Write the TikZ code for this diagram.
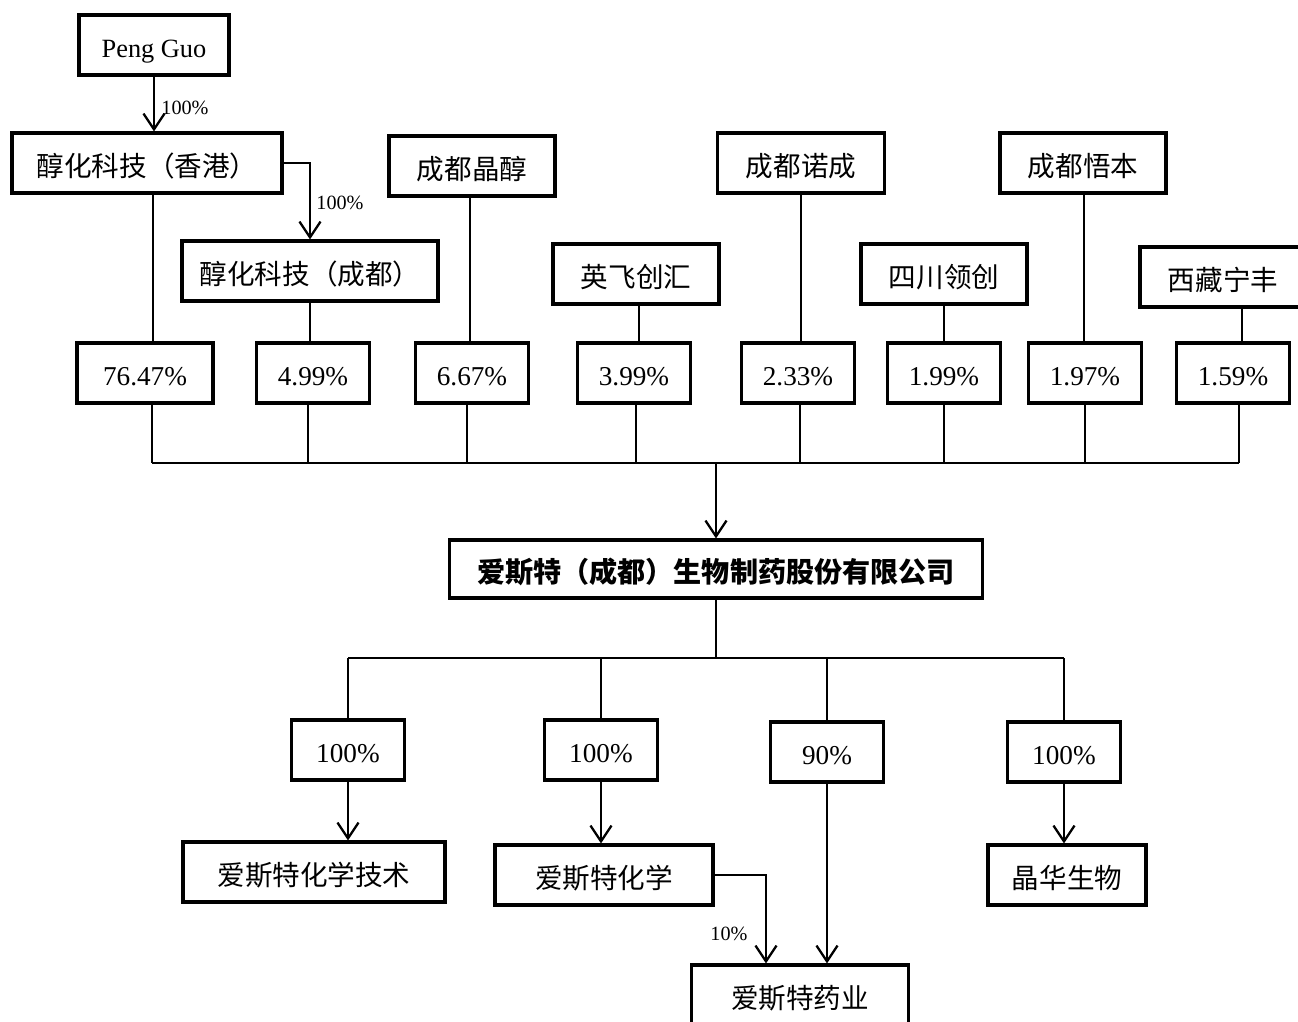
\documentclass[tikz,border=0pt]{standalone}
\usepackage{fontspec}
\setmainfont{Liberation Serif}
\newfontfamily\cjk{Noto Sans CJK SC}
\usetikzlibrary{arrows.meta,calc}

\begin{document}
\begin{tikzpicture}[x=0.02cm, y=-0.02cm,
  box/.style={draw, line width=1.8pt, minimum height=1.2cm, inner sep=0pt, text height=15.5pt, text depth=0pt, font=\fontsize{15.7}{18}\selectfont\cjk},
  pct/.style={draw, line width=1.8pt, minimum height=1.2cm, minimum width=2.26cm, inner sep=0pt, text height=14.5pt, text depth=0pt, font=\fontsize{15.5}{18}\selectfont},
  lbl/.style={inner sep=0pt, font=\fontsize{11.5}{13}\selectfont},
  arr/.style={-{Straight Barb[length=9pt,width=12pt,line width=1.3pt]}},
  every path/.style={line width=1.3pt}]
\useasboundingbox (0,0) rectangle (1298,1021);
% shareholders
\node[box, minimum width=3cm, text height=14pt, font=\fontsize{15}{18}\selectfont] (peng) at (154,45) {Peng Guo};
\node[box, minimum width=5.4cm] (hk) at (147,163) {醇化科技（香港）};
\node[box, minimum width=5.12cm] (cd) at (310,271) {醇化科技（成都）};
\node[box, minimum width=3.32cm] (jc) at (472,166) {成都晶醇};
\node[box, minimum width=3.32cm] (yf) at (636,274) {英飞创汇};
\node[box, minimum width=3.34cm] (nc) at (801,163) {成都诺成};
\node[box, minimum width=3.32cm] (sc) at (944,274) {四川领创};
\node[box, minimum width=3.32cm] (wb) at (1083,163) {成都悟本};
\node[box, minimum width=3.32cm] (xz) at (1223,277) {西藏宁丰};
\draw[arr] (peng.south) -- (peng.south |- hk.north);
\node[lbl] (l1) at (185,108) {100\%};
\draw[arr] (hk.east) -| (cd.north);
\node[lbl] (l2) at (340,203) {100\%};
% share percentages
\foreach \n/\x/\w/\v in {p1/145/2.72cm/76.47, p2/313/2.26cm/4.99, p3/472/2.26cm/6.67, p4/634/2.26cm/3.99,
  p5/798/2.26cm/2.33, p6/944/2.26cm/1.99, p7/1085/2.26cm/1.97, p8/1233/2.26cm/1.59}
  \node[pct, minimum width=\w] (\n) at (\x,373) {\v\%};
\foreach \a/\b/\dx in {hk/p1/0.12, cd/p2/0, jc/p3/-0.04, yf/p4/0.06, sc/p6/0, wb/p7/0.02, xz/p8/0.38}
  \draw ([xshift=\dx cm]\a.south) -- ([xshift=\dx cm]\a.south |- \b.north);
\draw[line width=0.6pt] (nc.south) -- (nc.south |- p5.north);
\coordinate (bus) at (716,463);
\foreach \p/\dx in {p1/0.14, p2/-0.1, p3/-0.1, p4/0.04, p5/0.04, p6/0, p7/0, p8/0.12}
  \draw ([xshift=\dx cm]\p.south) -- ([xshift=\dx cm]\p.south |- bus) coordinate (\p b);
\draw (p1b) -- (p8b);
% company
\node[box, minimum width=10.66cm, minimum height=1.16cm, font=\fontsize{16}{18}\selectfont\cjk\bfseries] (main) at (716,569) {爱斯特（成都）生物制药股份有限公司};
\draw[arr] (bus) -- (main.north);
\coordinate (fork) at (716,658);
\draw (main.south) -- (fork);
\foreach \n/\x/\y/\v in {q1/348/750/100, q2/601/750/100, q3/827/752/90, q4/1064/752/100}
  \node[pct] (\n) at (\x,\y) {\v\%};
\draw (q1.north |- fork) -- (q4.north |- fork);
\foreach \q in {q1,q2,q3,q4} \draw (\q.north |- fork) -- (\q.north);
% subsidiaries
\node[box, minimum width=5.24cm] (c1) at (314,872) {爱斯特化学技术};
\node[box, minimum width=4.36cm] (c2) at (604,875) {爱斯特化学};
\node[box, minimum width=3.16cm] (c4) at (1067,875) {晶华生物};
\node[box, minimum width=4.34cm] (yy) at (800,995) {爱斯特药业};
\draw[arr] (q1.south) -- (q1.south |- c1.north);
\draw[arr] (q2.south) -- (q2.south |- c2.north);
\draw[arr] (q4.south) -- (q4.south |- c4.north);
\draw[arr] (q3.south) -- (q3.south |- yy.north);
\draw[arr] (c2.east) -| ([xshift=-0.68cm]yy.north);
\node[lbl] (l3) at (729,934) {10\%};
\end{tikzpicture}
\end{document}
